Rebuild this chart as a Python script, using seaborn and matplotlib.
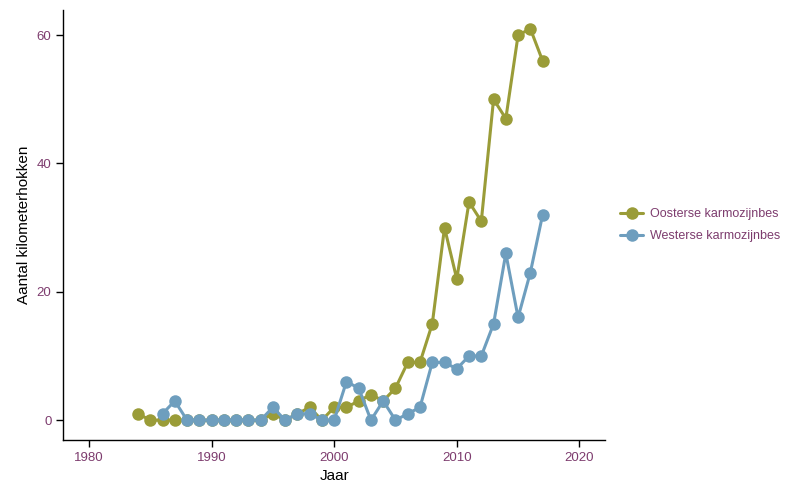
# Karmozijnbes - aantal kilometerhokken per jaar
import pandas as pd
import matplotlib
matplotlib.use("Agg")
import matplotlib.pyplot as plt
import seaborn as sns

# Data
years_oost = list(range(1984, 2018))
oosterse = [1, 0, 0, 0, 0, 0, 0, 0, 0, 0, 0, 1, 0, 1, 2, 0, 2, 2, 3, 4,
            3, 5, 9, 9, 15, 30, 22, 34, 31, 50, 47, 60, 61, 56]
years_west = list(range(1986, 2018))
westerse = [1, 3, 0, 0, 0, 0, 0, 0, 0, 2, 0, 1, 1, 0, 0, 6, 5, 0, 3, 0,
            1, 2, 9, 9, 8, 10, 10, 15, 26, 16, 23, 32]
series_names = ["Oosterse karmozijnbes", "Westerse karmozijnbes"]
x_ticks = [1980, 1990, 2000, 2010, 2020]
y_ticks = [0, 20, 40, 60]

df = pd.concat([
    pd.DataFrame({"Jaar": years_oost, "Aantal": oosterse, "soort": series_names[0]}),
    pd.DataFrame({"Jaar": years_west, "Aantal": westerse, "soort": series_names[1]}),
])

sns.set_style("ticks")
plt.rcParams["font.family"] = ["Liberation Sans", "DejaVu Sans"]

label_color = "#7d3c6e"
palette = {series_names[0]: "#9a9c38", series_names[1]: "#6e9ebe"}

fig = plt.figure(figsize=(7.9, 4.82), dpi=100)
ax = fig.add_axes([0.08, 0.087, 0.686, 0.892])

sns.lineplot(data=df, x="Jaar", y="Aantal", hue="soort", hue_order=series_names,
             palette=palette, marker="o", markersize=9, markeredgewidth=0,
             linewidth=2.2, ax=ax)

ax.set_xlim(1977.9, 2022.1)
ax.set_ylim(-3.1, 63.9)
ax.set_xticks(x_ticks)
ax.set_yticks(y_ticks)
ax.tick_params(axis="both", colors="black", labelcolor=label_color,
               labelsize=9.5, length=5, width=1)
ax.set_xlabel("Jaar", fontsize=11, color="black")
ax.set_ylabel("Aantal kilometerhokken", fontsize=11, color="black")
sns.despine(ax=ax)
for side in ["left", "bottom"]:
    ax.spines[side].set_linewidth(1.0)
    ax.spines[side].set_color("black")

leg = ax.legend(loc="center left", bbox_to_anchor=(1.012, 0.5), frameon=False,
                fontsize=9, handlelength=1.8, handletextpad=0.6,
                labelspacing=0.8, borderaxespad=0.3)
for text in leg.get_texts():
    text.set_color(label_color)

fig.savefig("out.png", dpi=100)
